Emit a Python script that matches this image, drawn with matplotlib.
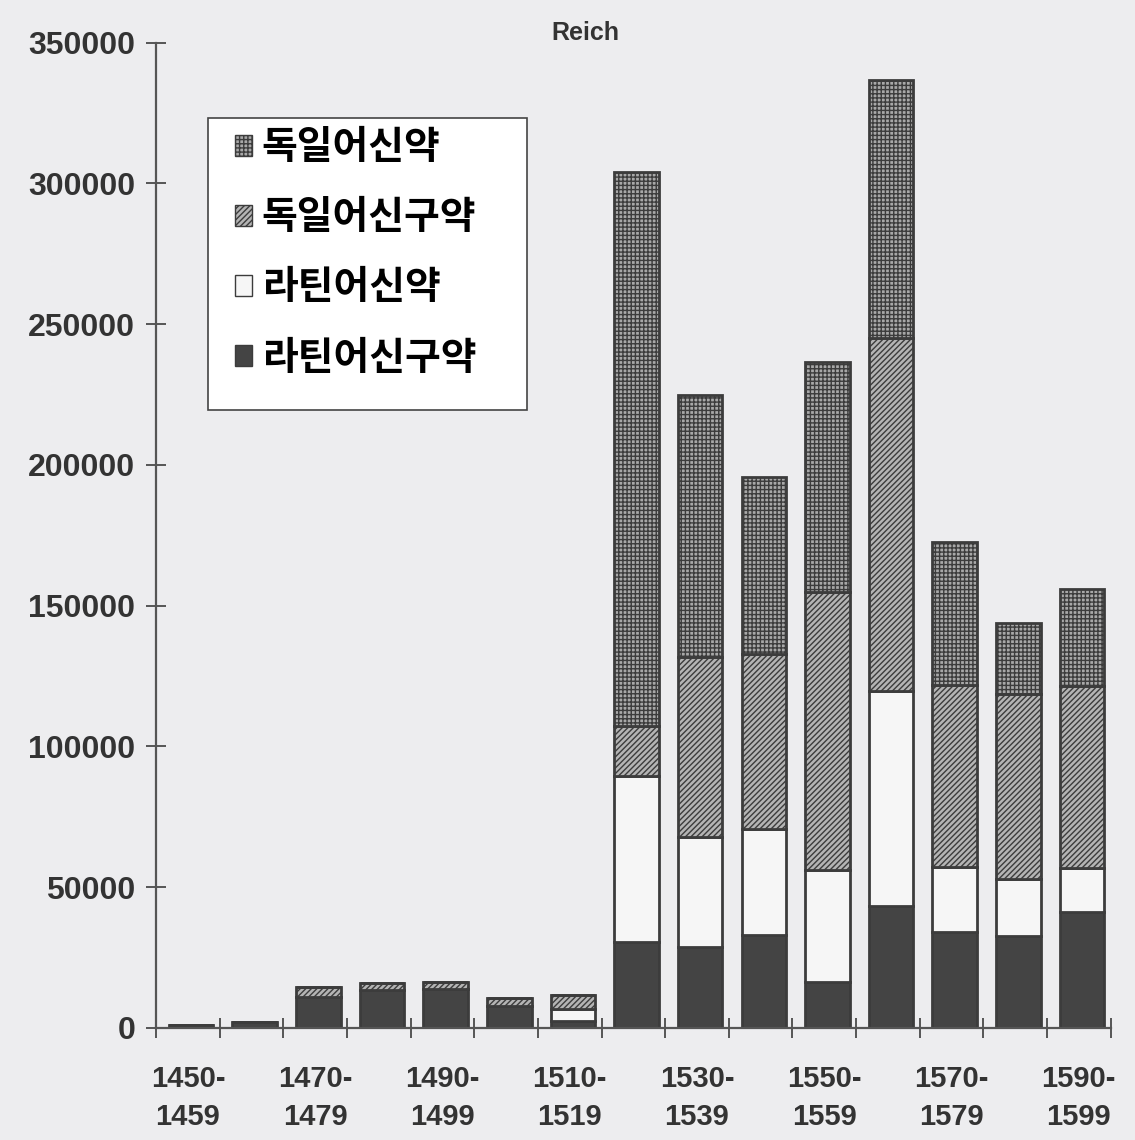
import numpy as np
import matplotlib
matplotlib.use("Agg")
import matplotlib.pyplot as plt
from matplotlib.patches import Patch, Rectangle

# -------------------------------------------------
# Data
# -------------------------------------------------
decades = ["1450-\n1459", "1460-\n1469", "1470-\n1479", "1480-\n1489",
           "1490-\n1499", "1500-\n1509", "1510-\n1519", "1520-\n1529",
           "1530-\n1539", "1540-\n1549", "1550-\n1559", "1560-\n1569",
           "1570-\n1579", "1580-\n1589", "1590-\n1599"]

latin_full = [1000, 2200, 11000, 13500, 13800, 7800, 2500, 30500,
              28700, 33000, 16300, 43300, 34100, 32700, 41200]
latin_nt = [0, 0, 0, 0, 0, 0, 4000, 59000,
            39100, 37600, 39800, 76300, 23100, 20200, 15600]
german_full = [0, 0, 3500, 2500, 2500, 2800, 5000, 17700,
               63900, 62200, 98700, 125400, 64600, 65700, 64600]
german_nt = [0, 0, 0, 0, 0, 0, 0, 196800,
             93300, 62800, 81600, 91900, 50700, 25200, 34400]

labels = ["독일어신약", "독일어신구약", "라틴어신약", "라틴어신구약"]
y_ticks = [0, 50000, 100000, 150000, 200000, 250000, 300000, 350000]

# -------------------------------------------------
# Style
# -------------------------------------------------
bg = "#ededef"
edge = "#3c3c3c"
plt.rcParams["hatch.linewidth"] = 1.0
plt.rcParams["hatch.color"] = edge
plt.rcParams["font.family"] = ["Liberation Sans", "DejaVu Sans"]

fig = plt.figure(figsize=(11.35, 11.4), dpi=100, facecolor=bg)
ax = fig.add_axes([0.1375, 0.0985, 0.841, 0.864], facecolor=bg)

x = np.arange(len(decades))
w = 0.7

lf = np.array(latin_full)
ln = np.array(latin_nt)
gf = np.array(german_full)
gn = np.array(german_nt)

# stacked bars, bottom to top
ax.bar(x + 0.05, lf, w, color="#444444", edgecolor=edge, linewidth=2)
ax.bar(x + 0.05, ln, w, bottom=lf, color="#f6f6f6", edgecolor=edge,
       linewidth=2)
ax.bar(x + 0.05, gf, w, bottom=lf + ln, color="#b4b4b4", edgecolor=edge,
       linewidth=2, hatch="//////")
ax.bar(x + 0.05, gn, w, bottom=lf + ln + gf, color="#a8a8a8", edgecolor=edge,
       linewidth=2, hatch="++++")

# -------------------------------------------------
# Axes
# -------------------------------------------------
ax.set_xlim(-0.5, len(decades) - 0.5)
ax.set_ylim(0, 350000)
for s in ["top", "right"]:
    ax.spines[s].set_visible(False)
for s in ["left", "bottom"]:
    ax.spines[s].set_color("#555555")
    ax.spines[s].set_linewidth(1.6)

ax.set_yticks(y_ticks)
ax.set_yticklabels([str(v) for v in y_ticks])
ax.tick_params(axis="y", direction="inout", length=14, width=1.4,
               color="#555555", pad=8, labelsize=23, labelcolor="#333333")

# boundary ticks on the x axis, labels every second decade
ax.set_xticks(np.arange(-0.5, len(decades), 1.0))
ax.set_xticklabels([])
ax.tick_params(axis="x", which="major", direction="inout", length=14,
               width=1.4, color="#555555")
ax.set_xticks(x[::2], minor=True)
ax.set_xticklabels(decades[::2], minor=True, linespacing=1.45)
ax.tick_params(axis="x", which="minor", length=0, pad=27, labelsize=21,
               labelcolor="#333333")
for t in ax.get_yticklabels() + ax.get_xticklabels(minor=True):
    t.set_fontweight("bold")

fig.text(0.516, 1 - 33 / 1140, "Reich", ha="center", va="center",
         fontsize=18, fontweight="bold", color="#333333")

# -------------------------------------------------
# Legend (box drawn separately, it is taller than its entries)
# -------------------------------------------------
ax.add_patch(Rectangle((0.0545, 0.627), 0.3345, 0.2966,
                       transform=ax.transAxes, facecolor="white",
                       edgecolor="#444444", linewidth=1.2, zorder=4))
handles = [
    Patch(facecolor="#a8a8a8", edgecolor=edge, hatch="++++"),
    Patch(facecolor="#b4b4b4", edgecolor=edge, hatch="//////"),
    Patch(facecolor="#f6f6f6", edgecolor=edge),
    Patch(facecolor="#444444", edgecolor=edge),
]
leg = ax.legend(handles, labels, loc="upper left",
                bbox_to_anchor=(0.066, 0.929), frameon=False,
                borderaxespad=0,
                handlelength=0.45, handleheight=0.45, handletextpad=0.25,
                labelspacing=0.8, borderpad=0.4,
                prop={"family": ["Noto Sans CJK KR", "DejaVu Sans"],
                      "size": 28, "weight": "bold"})
leg.set_zorder(5)

fig.savefig("out.png", dpi=100, facecolor=bg)
